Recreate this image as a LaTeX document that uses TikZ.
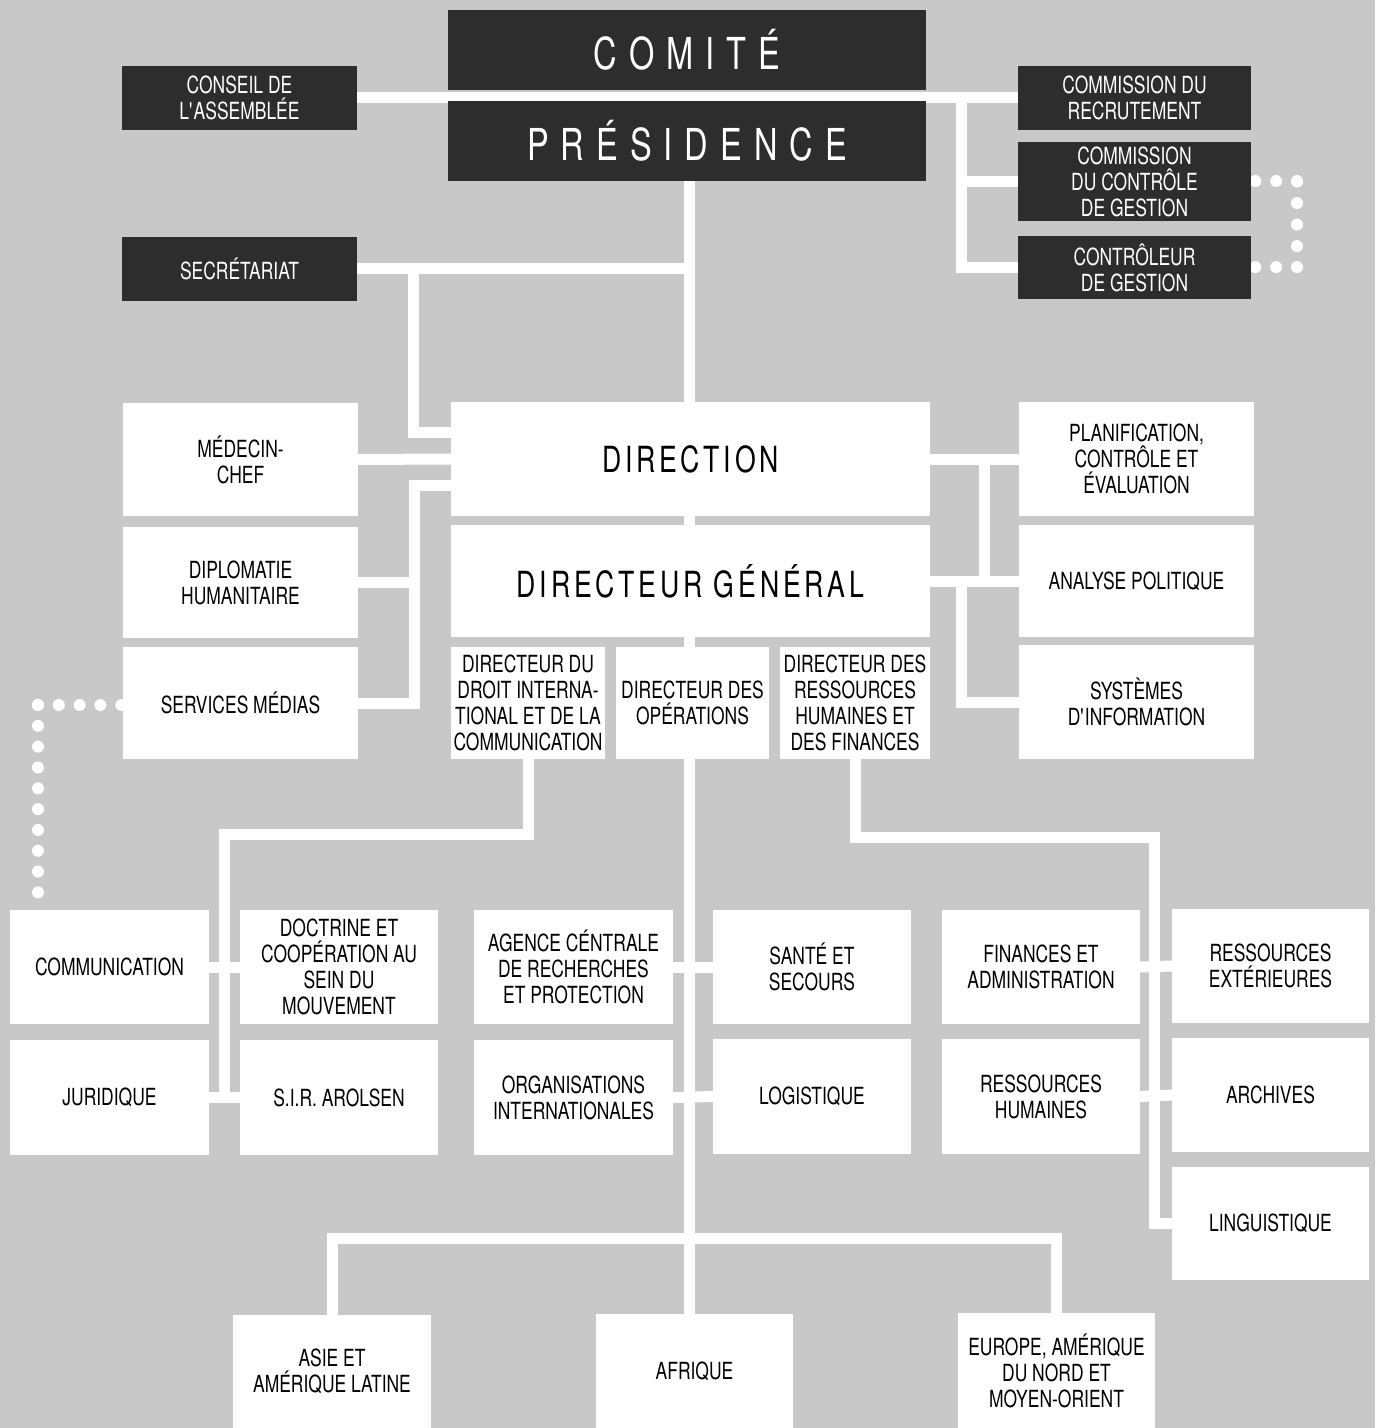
\documentclass[tikz,border=0pt]{standalone}
\usepackage{fontspec}
\setmainfont{TeX Gyre Heros}[FakeStretch=0.74]
\usetikzlibrary{backgrounds}
\definecolor{bggrey}{RGB}{200,200,200}
\definecolor{boxdark}{RGB}{45,45,45}
\newcommand\bx[7]{\node[#2, minimum width={(#5-#3)*0.5pt}, minimum height={(#6-#4)*0.5pt}] (#1) at ({(#3+#5)/2},{(#4+#6)/2}) {#7};}
\newcommand\ta{\kern6pt}
\newcommand\tb{\kern1.9pt}
\begin{document}
\begin{tikzpicture}[x=0.5pt,y=-0.5pt,
  base/.style={inner sep=0pt, outer sep=0pt, align=center, font=\fontsize{11.8}{13}\selectfont},
  dbox/.style={base, fill=boxdark, text=white},
  lbox/.style={base, fill=white, text=black},
  bigtitle/.style={font=\fontsize{22}{24}\selectfont},
  midtitle/.style={font=\fontsize{18}{20}\selectfont},
  wire/.style={draw=white, line width=5.5pt},
  dotwire/.style={draw=white, line width=6pt, line cap=round, dash pattern=on 0.01pt off 10.4pt}]
\useasboundingbox (0,0) rectangle (1375,1428);
% top
\bx{comite}{dbox,bigtitle}{448}{10}{926}{90}{C\ta O\ta M\ta I\ta T\ta É}
\bx{pres}{dbox,bigtitle}{448}{101}{926}{181}{P\ta R\ta É\ta S\ta I\ta D\ta E\ta N\ta C\ta E}
\bx{conseil}{dbox}{122}{66}{357}{130}{CONSEIL DE\\L\textquotesingle ASSEMBLÉE}
\bx{recr}{dbox}{1018}{66}{1251}{130}{COMMISSION DU\\RECRUTEMENT}
\bx{ccg}{dbox}{1018}{142}{1251}{221}{COMMISSION\\DU CONTRÔLE\\DE GESTION}
\bx{ctrl}{dbox}{1018}{236}{1251}{299}{CONTRÔLEUR\\DE GESTION}
\bx{secr}{dbox}{122}{237}{357}{301}{SECRÉTARIAT}
% middle
\bx{dir}{lbox,midtitle}{451}{402}{930}{516}{D\tb I\tb R\tb E\tb C\tb T\tb I\tb O\tb N}
\bx{dg}{lbox,midtitle}{451}{525}{930}{637}{D\tb I\tb R\tb E\tb C\tb T\tb E\tb U\tb R\tb\ G\tb É\tb N\tb É\tb R\tb A\tb L}
\bx{med}{lbox}{123}{403}{358}{516}{MÉDECIN-\\CHEF}
\bx{dipl}{lbox}{123}{527}{358}{638}{DIPLOMATIE\\HUMANITAIRE}
\bx{sm}{lbox}{123}{647}{358}{759}{SERVICES MÉDIAS}
\bx{plan}{lbox}{1019}{402}{1254}{516}{PLANIFICATION,\\CONTRÔLE ET\\ÉVALUATION}
\bx{ana}{lbox}{1019}{525}{1254}{637}{ANALYSE POLITIQUE}
\bx{sys}{lbox}{1019}{645}{1254}{759}{SYSTÈMES\\D\textquotesingle INFORMATION}
\bx{ddi}{lbox}{451}{647}{605}{759}{DIRECTEUR DU\\DROIT INTERNA-\\TIONAL ET DE LA\\COMMUNICATION}
\bx{dop}{lbox}{616}{647}{769}{759}{DIRECTEUR DES\\OPÉRATIONS}
\bx{drh}{lbox}{780}{647}{930}{759}{DIRECTEUR DES\\RESSOURCES\\HUMAINES ET\\DES FINANCES}
% lower rows
\bx{comm}{lbox}{10}{910}{209}{1024}{COMMUNICATION}
\bx{doct}{lbox}{240}{910}{438}{1024}{DOCTRINE ET\\COOPÉRATION AU\\SEIN DU\\MOUVEMENT}
\bx{agence}{lbox}{474}{910}{673}{1024}{AGENCE CÉNTRALE\\DE RECHERCHES\\ET PROTECTION}
\bx{sante}{lbox}{713}{910}{911}{1024}{SANTÉ ET\\SECOURS}
\bx{fin}{lbox}{942}{910}{1140}{1024}{FINANCES ET\\ADMINISTRATION}
\bx{rext}{lbox}{1172}{909}{1369}{1023}{RESSOURCES\\EXTÉRIEURES}
\bx{jur}{lbox}{10}{1040}{209}{1155}{JURIDIQUE}
\bx{sir}{lbox}{240}{1040}{438}{1155}{S.I.R. AROLSEN}
\bx{org}{lbox}{474}{1040}{673}{1155}{ORGANISATIONS\\INTERNATIONALES}
\bx{log}{lbox}{713}{1039}{911}{1154}{LOGISTIQUE}
\bx{rh}{lbox}{942}{1039}{1140}{1154}{RESSOURCES\\HUMAINES}
\bx{arch}{lbox}{1172}{1038}{1369}{1152}{ARCHIVES}
\bx{ling}{lbox}{1172}{1167}{1369}{1280}{LINGUISTIQUE}
\bx{asie}{lbox}{233}{1315}{431}{1428}{ASIE ET\\AMÉRIQUE LATINE}
\bx{afr}{lbox}{596}{1314}{793}{1428}{AFRIQUE}
\bx{eur}{lbox}{958}{1313}{1155}{1428}{EUROPE, AMÉRIQUE\\DU NORD ET\\MOYEN-ORIENT}
\begin{pgfonlayer}{background}
\fill[bggrey] (0,0) rectangle (1375,1428);
\coordinate (xr1) at (961,0);
\coordinate (xt) at (689,0);
\coordinate (xl1) at (413,0);
\coordinate (xl2) at (414,0);
\coordinate (xr2) at (984,0);
\coordinate (xr3) at (961,0);
\coordinate (yb1) at (0,834);
\coordinate (xb1) at (224,0);
\coordinate (yb2) at (0,837);
\coordinate (xb2) at (1154,0);
\coordinate (yb3) at (0,1238);
\draw[wire] (conseil.east) -- (recr.west);
\draw[wire] (xr1 |- recr.west) |- (ctrl.west);
\draw[wire] (xr1 |- ccg.west) -- (ccg.west);
\draw[wire] (xt |- pres.south) -- (xt |- afr.north);
\draw[wire] (secr.east) -- (xt |- secr.east);
\draw[wire] (xl1 |- secr.east) |- ([yshift=13.5pt]dir.west);
\draw[wire] (med.east) -- (dir.west);
\draw[wire] ([yshift=-13pt]dir.west) -| (xl2 |- sm.east) -- (sm.east);
\draw[wire] (xl2 |- dipl.east) -- (dipl.east);
\draw[wire] (dir.east) -- (plan.west);
\draw[wire] (xr2 |- dir.east) -- (xr2 |- ana.west);
\draw[wire] (dg.east) -- (ana.west);
\draw[wire] (xr3 |- dg.east) |- (sys.west);
\draw[wire] (ddi.south) |- (xb1 |- yb1) -- (xb1 |- jur.east);
\draw[wire] (comm.east) -- (doct.west);
\draw[wire] (jur.east) -- (sir.west);
\draw[wire] (agence.east) -- (sante.west);
\draw[wire] (org.east) -- (log.west);
\draw[wire] (drh.south) |- (xb2 |- yb2) -- (xb2 |- ling.west) -- (ling.west);
\draw[wire] (fin.east) -- (rext.west);
\draw[wire] (rh.east) -- (arch.west);
\draw[wire] (asie.north) |- (eur.north |- yb3) -- (eur.north);
\coordinate (d1) at (38,705);
\coordinate (d2) at (1297,181.5);
\coordinate (d3) at (1297,267.5);
\draw[dotwire] (d1) -- (sm.west |- d1);
\draw[dotwire] (d1) -- (d1 |- comm.north);
\draw[dotwire] (d2) -- (ccg.east);
\draw[dotwire] (d3) -- (ctrl.east);
\draw[dotwire, dash pattern=on 0.01pt off 10.75pt] (d2) -- (d3);
\end{pgfonlayer}
\end{tikzpicture}
\end{document}
